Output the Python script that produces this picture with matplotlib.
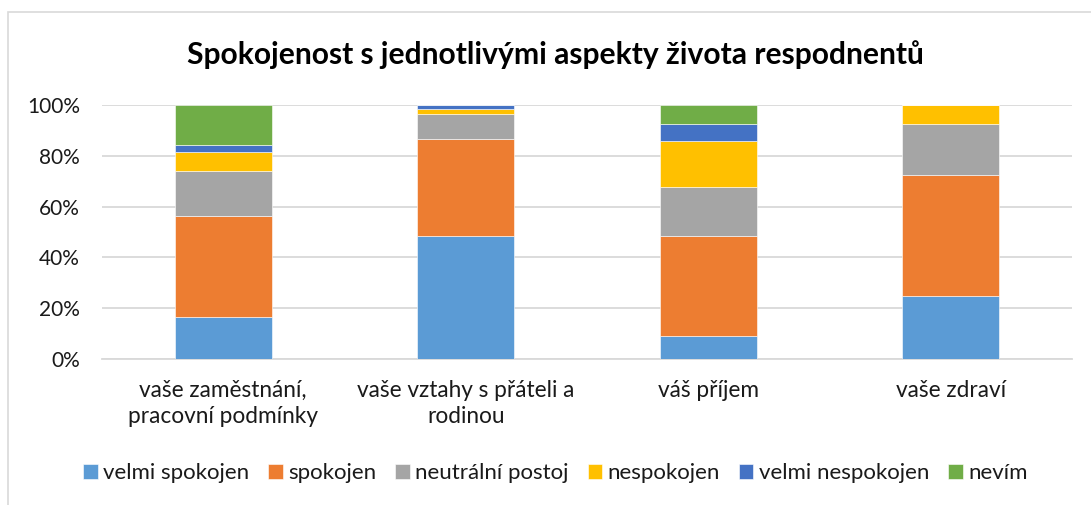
import matplotlib
matplotlib.use("Agg")
import matplotlib.pyplot as plt
from matplotlib.patches import Rectangle
import numpy as np

plt.rcParams['font.family'] = ['Lato', 'DejaVu Sans']

categories = ["vaše zaměstnání,\npracovní podmínky",
              "vaše vztahy s přáteli a\nrodinou",
              "váš příjem",
              "vaše zdraví"]
series_names = ["velmi spokojen", "spokojen", "neutrální postoj",
                "nespokojen", "velmi nespokojen", "nevím"]
velmi_spokojen = [16.5, 48.3, 9.2, 24.7]
spokojen = [39.9, 38.3, 39.1, 47.8]
neutralni = [17.7, 9.7, 19.3, 20.0]
nespokojen = [7.3, 2.1, 18.3, 7.5]
velmi_nespokojen = [2.9, 1.6, 6.6, 0.0]
nevim = [15.7, 0.0, 7.5, 0.0]
yticks = [0, 20, 40, 60, 80, 100]
ytick_labels = ["0%", "20%", "40%", "60%", "80%", "100%"]
title = "Spokojenost s jednotlivými aspekty života respodnentů"

colors = ["#5B9BD5", "#ED7D31", "#A5A5A5", "#FFC000", "#4472C4", "#70AD47"]
series = [velmi_spokojen, spokojen, neutralni, nespokojen, velmi_nespokojen, nevim]

W, H = 1091, 505
fig = plt.figure(figsize=(W / 100, H / 100), dpi=100)
ax = fig.add_axes([102 / W, (H - 359.3) / H, (1072 - 102) / W, (359.3 - 104.7) / H])

x = np.arange(len(categories))
bottom = np.zeros(len(categories))
handles = []
for name, vals, c in zip(series_names, series, colors):
    vals = np.array(vals, dtype=float)
    b = ax.bar(x, vals, 0.4, bottom=bottom, color=c, label=name,
               edgecolor="white", linewidth=0.4, zorder=3)
    handles.append(b)
    bottom += vals

ax.set_xlim(-0.5, len(categories) - 0.5)
ax.set_ylim(0, 100)
ax.set_yticks(yticks)
ax.set_yticklabels(ytick_labels)
ax.set_xticks(x)
ax.set_xticklabels(categories, linespacing=1.3)
ax.tick_params(axis='both', length=0, colors="#1a1a1a")
ax.tick_params(axis='y', pad=16, labelsize=15)
ax.tick_params(axis='x', pad=15, labelsize=16.3)
ax.yaxis.grid(True, color="#d9d9d9", linewidth=1.3, zorder=0)
ax.set_axisbelow(True)
for s in ["top", "right", "left"]:
    ax.spines[s].set_visible(False)
ax.spines["bottom"].set_color("#d9d9d9")
ax.spines["bottom"].set_linewidth(1.3)

fig.text(555.5 / W, 1 - 55 / H, title, ha="center", va="center",
         fontsize=21.6, fontweight="bold", color="#000000")

fig.legend(handles=handles, labels=series_names, loc="center",
           bbox_to_anchor=(555.5 / W, 1 - 473 / H), ncol=6, frameon=False,
           fontsize=16, handlelength=0.65, handleheight=0.65,
           handletextpad=0.25, columnspacing=0.85, labelcolor="#1a1a1a")

fig.patches.append(Rectangle((8 / W, -0.1), 1.2, 1 - 12 / H + 0.1,
                             transform=fig.transFigure, fill=False,
                             edgecolor="#d9d9d9", linewidth=1.2))

fig.savefig("out.png", dpi=100)
